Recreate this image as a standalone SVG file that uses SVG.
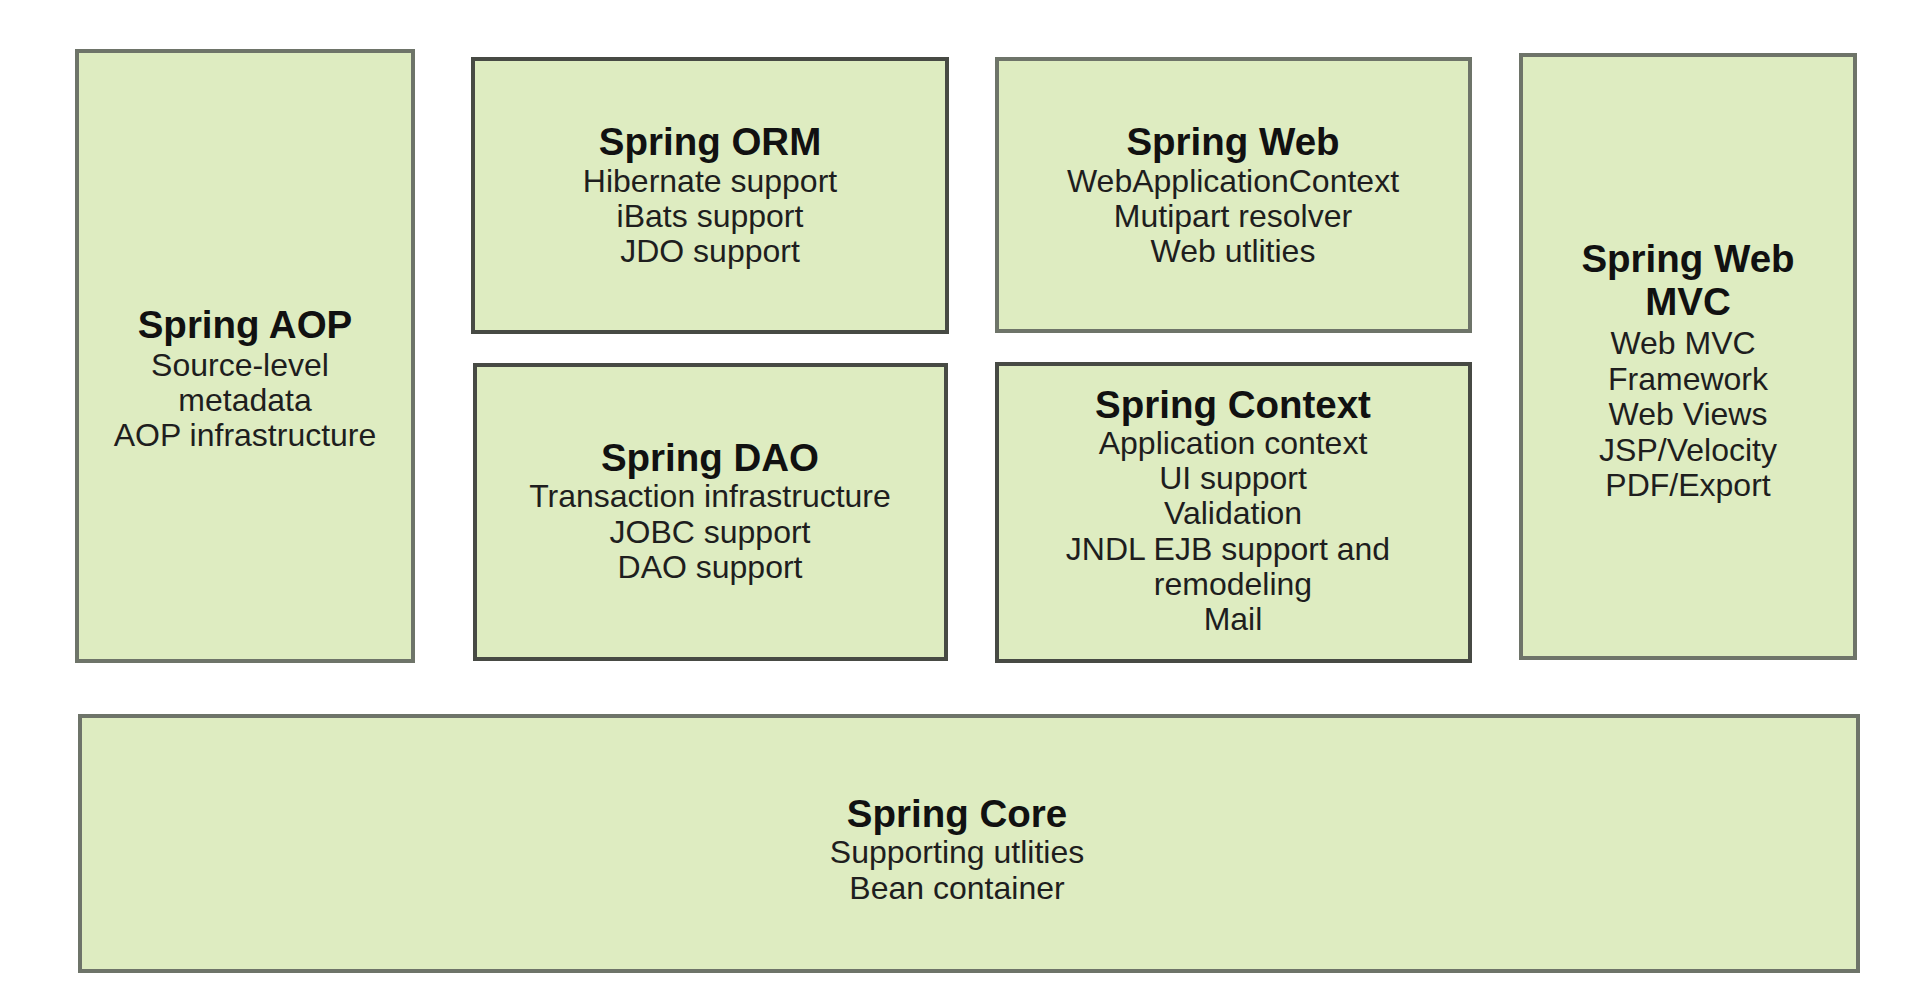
<svg xmlns="http://www.w3.org/2000/svg" width="1926" height="998" viewBox="0 0 1926 998">
<style>
.box{fill:#deecc1;stroke:#6e7469;stroke-width:4}
.dark{stroke:#474a44}
.t{font-family:"Liberation Sans",Arial,sans-serif;font-weight:bold;font-size:38.5px;fill:#111;text-anchor:middle}
.b{font-family:"Liberation Sans",Arial,sans-serif;font-size:32px;fill:#1e1e1e;text-anchor:middle}
</style>
<rect width="1926" height="998" fill="#ffffff"/>
<g id="spring-aop">
<rect class="box" x="77" y="51" width="336" height="610"/>
<text class="t" x="245" y="338">Spring AOP</text>
<text class="b" x="240" y="376">Source-level</text>
<text class="b" x="245" y="411">metadata</text>
<text class="b" x="245" y="446">AOP infrastructure</text>
</g>
<g id="spring-orm">
<rect class="box dark" x="473" y="59" width="474" height="273"/>
<text class="t" x="710" y="155">Spring ORM</text>
<text class="b" x="710" y="192">Hibernate support</text>
<text class="b" x="710" y="227">iBats support</text>
<text class="b" x="710" y="262">JDO support</text>
</g>
<g id="spring-dao">
<rect class="box dark" x="475" y="365" width="471" height="294"/>
<text class="t" x="710" y="471">Spring DAO</text>
<text class="b" x="710" y="507">Transaction infrastructure</text>
<text class="b" x="710" y="543">JOBC support</text>
<text class="b" x="710" y="578">DAO support</text>
</g>
<g id="spring-web">
<rect class="box" x="997" y="59" width="473" height="272"/>
<text class="t" x="1233" y="155">Spring Web</text>
<text class="b" x="1233" y="192">WebApplicationContext</text>
<text class="b" x="1233" y="227">Mutipart resolver</text>
<text class="b" x="1233" y="262">Web utlities</text>
</g>
<g id="spring-context">
<rect class="box dark" x="997" y="364" width="473" height="297"/>
<text class="t" x="1233" y="418">Spring Context</text>
<text class="b" x="1233" y="454">Application context</text>
<text class="b" x="1233" y="489">UI support</text>
<text class="b" x="1233" y="524">Validation</text>
<text class="b" x="1228" y="560">JNDL EJB support and</text>
<text class="b" x="1233" y="595">remodeling</text>
<text class="b" x="1233" y="630">Mail</text>
</g>
<g id="spring-web-mvc">
<rect class="box" x="1521" y="55" width="334" height="603"/>
<text class="t" x="1688" y="272">Spring Web</text>
<text class="t" x="1688" y="315">MVC</text>
<text class="b" x="1683" y="354">Web MVC</text>
<text class="b" x="1688" y="390">Framework</text>
<text class="b" x="1688" y="425">Web Views</text>
<text class="b" x="1688" y="461">JSP/Velocity</text>
<text class="b" x="1688" y="496">PDF/Export</text>
</g>
<g id="spring-core">
<rect class="box" x="80" y="716" width="1778" height="255"/>
<text class="t" x="957" y="827">Spring Core</text>
<text class="b" x="957" y="863">Supporting utlities</text>
<text class="b" x="957" y="899">Bean container</text>
</g>
<g id="connectors"></g>
</svg>
